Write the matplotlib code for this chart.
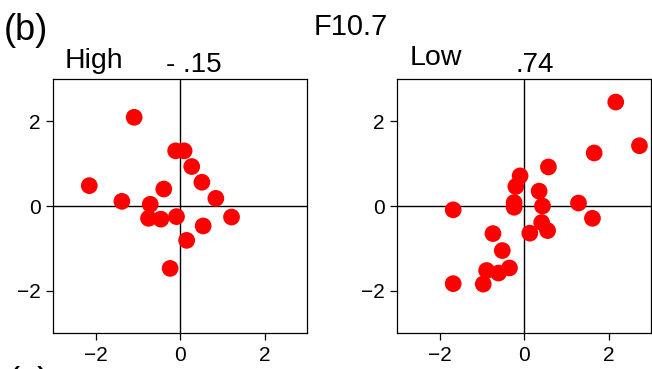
import matplotlib
matplotlib.use("Agg")
import matplotlib.pyplot as plt

plt.rcParams['font.family'] = ['Liberation Sans', 'DejaVu Sans']

# High F10.7 panel
high_x = [-1.09, -2.15, -1.38, -0.71, -0.75, -0.46, -0.39, -0.09, -0.11, 0.09, 0.27, 0.51, 0.84, 1.21, 0.54, 0.15, -0.24]
high_y = [2.09, 0.48, 0.11, 0.04, -0.29, -0.31, 0.40, -0.25, 1.30, 1.30, 0.93, 0.56, 0.18, -0.26, -0.47, -0.81, -1.47]

# Low F10.7 panel
low_x = [2.16, 2.72, 1.65, 0.57, -0.10, -0.20, 0.35, -0.24, -0.24, 0.43, 1.28, 1.61, -1.68, -0.74, 0.13, 0.41, 0.55, -0.52, -0.35, -0.61, -0.89, -0.97, -1.68]
low_y = [2.45, 1.42, 1.25, 0.92, 0.71, 0.46, 0.35, 0.08, -0.03, 0.00, 0.07, -0.29, -0.09, -0.65, -0.64, -0.39, -0.58, -1.05, -1.46, -1.58, -1.52, -1.84, -1.83]

ticks = [-2, 0, 2]
W, H = 652, 369

fig = plt.figure(figsize=(W / 100, H / 100), dpi=100)

def panel(left, xs, ys):
    ax = fig.add_axes([left / W, 35.7 / H, 254 / W, 254.6 / H])
    ax.axhline(0, color='k', linewidth=1.0, zorder=1)
    ax.axvline(0, color='k', linewidth=1.0, zorder=1)
    ax.scatter(xs, ys, s=145, color='#ff0000', edgecolors='none', zorder=3)
    ax.set_xlim(-3, 3)
    ax.set_ylim(-3, 3)
    ax.set_xticks(ticks)
    ax.set_yticks(ticks)
    ax.tick_params(labelsize=15, length=5, width=0.9, direction='out', pad=4)
    for s in ax.spines.values():
        s.set_linewidth(0.9)
    return ax

panel(53.3, high_x, high_y)
panel(397.3, low_x, low_y)

def label(x, y, s, size):
    fig.text(x / W, 1 - y / H, s, fontsize=size, ha='left', va='baseline')

label(4, 40, "(b)", 26)
label(314, 35, "F10.7", 21)
label(65, 68, "High", 20.5)
label(166, 72, "- .15", 20)
label(410, 65, "Low", 20.5)
label(515, 72, ".74", 20)
label(8, 393, "(c)", 26)

plt.savefig("out.png", dpi=100)
